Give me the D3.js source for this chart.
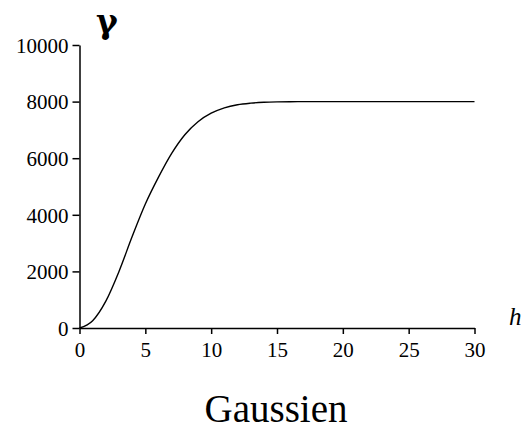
<!DOCTYPE html>
<html>
<head>
<meta charset="utf-8">
<script src="https://cdn.jsdelivr.net/npm/d3@7"></script>
<style>
  body { margin: 0; background: #fff; }
  svg text { font-family: "Liberation Serif", "Times New Roman", serif; fill: #000; }
</style>
</head>
<body>
<svg id="chart" width="524" height="432"></svg>
<script>
// lag distance h and semivariance gamma
const lags = [0, 1, 2, 3, 4, 5, 6, 7, 8, 9, 10, 11, 12, 13, 14, 15, 16, 17, 18, 20, 22, 25, 28, 30];
const gammas = [0, 260, 950, 2000, 3230, 4380, 5330, 6170, 6830, 7290, 7590, 7780, 7890, 7945, 7975, 7990, 7997, 8000, 8000, 8000, 8000, 8000, 8000, 8000];
const xTicks = [0, 5, 10, 15, 20, 25, 30];
const yTicks = [0, 2000, 4000, 6000, 8000, 10000];

const svg = d3.select("#chart");

const x = d3.scaleLinear().domain([0, 30]).range([79.5, 474.5]);
const y = d3.scaleLinear().domain([0, 10000]).range([328, 45]);

// axes
const xAxis = svg.append("g")
    .attr("transform", "translate(0,328)")
    .call(d3.axisBottom(x).tickValues(xTicks).tickFormat(d3.format("d"))
        .tickSize(6).tickPadding(8).tickSizeOuter(0));

const yAxis = svg.append("g")
    .attr("transform", "translate(79.5,0)")
    .call(d3.axisLeft(y).tickValues(yTicks).tickFormat(d3.format("d"))
        .tickSize(7).tickPadding(4).tickSizeOuter(0));

[xAxis, yAxis].forEach(g => {
    g.attr("font-family", null).attr("font-size", null);
    g.select(".domain").attr("stroke", "#000").attr("stroke-width", 1.5);
    g.selectAll(".tick line").attr("stroke", "#000").attr("stroke-width", 1.5);
    g.selectAll(".tick text")
        .style("font-family", "'Liberation Serif', serif")
        .style("font-size", "21px")
        .attr("fill", "#000");
});
yAxis.selectAll(".tick text").attr("dy", "0.35em");

// curve
const line = d3.line()
    .x((d, i) => x(lags[i]))
    .y(d => y(d))
    .curve(d3.curveMonotoneX);

svg.append("path")
    .datum(gammas)
    .attr("fill", "none")
    .attr("stroke", "#000")
    .attr("stroke-width", 1.4)
    .attr("d", line);

// labels
svg.append("text")
    .attr("x", 96)
    .attr("y", 33)
    .style("font-family", "'DejaVu Serif', serif")
    .style("font-weight", "bold")
    .style("font-size", "33px")
    .text("γ");

svg.append("text")
    .attr("x", 509)
    .attr("y", 325)
    .style("font-family", "'Liberation Serif', serif")
    .style("font-style", "italic")
    .style("font-size", "25px")
    .text("h");

svg.append("text")
    .attr("x", 276)
    .attr("y", 422)
    .attr("text-anchor", "middle")
    .style("font-family", "'Liberation Serif', serif")
    .style("font-size", "39px")
    .text("Gaussien");
</script>
</body>
</html>
